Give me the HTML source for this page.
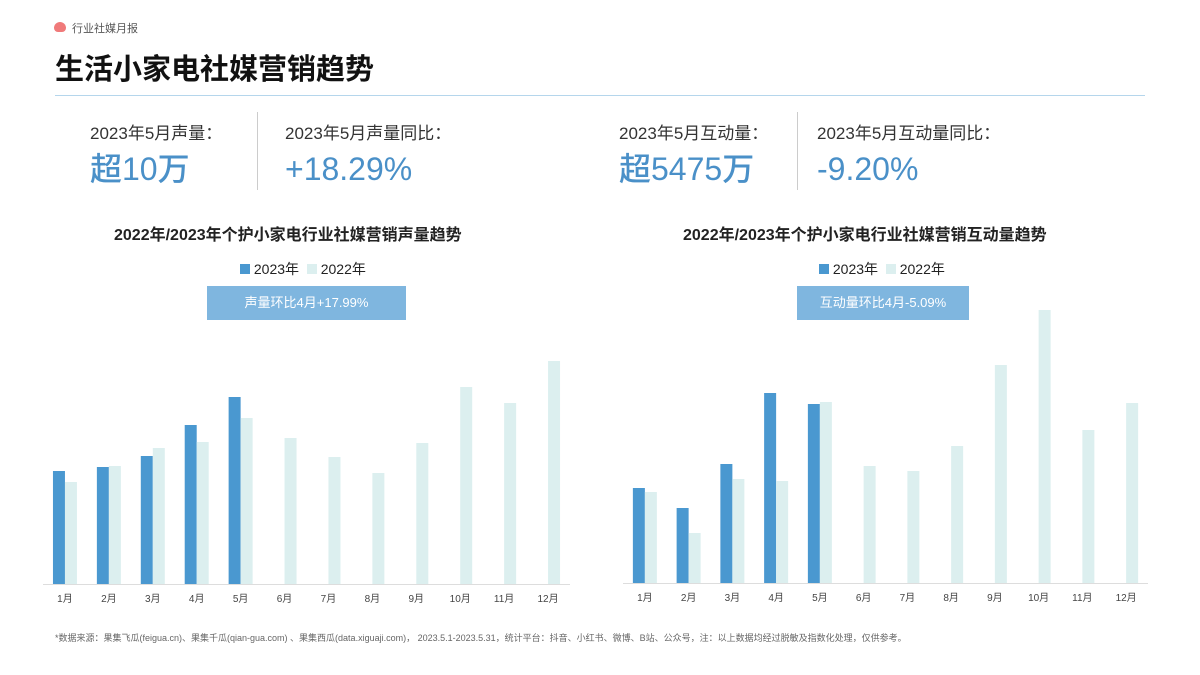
<!DOCTYPE html>
<html><head><meta charset="utf-8"><style>
body{margin:0;width:1200px;height:675px;background:#fff;font-family:"Liberation Sans","Noto Sans CJK SC",sans-serif;position:relative;overflow:hidden;color:#222}
.a{position:absolute;white-space:nowrap}
.lbl{font-size:17px;color:#333}
.val{font-size:32px;color:#4a90c8;font-weight:500;line-height:44px;height:44px}
.ct{font-size:16px;font-weight:bold;color:#222}
.tag{background:#7fb6df;color:#fff;font-size:13px;text-align:center;line-height:34px;height:34px}
</style></head><body>
<div class="a" style="left:54px;top:22px;width:12px;height:10px;border-radius:6px 6px 4px 4px;background:#f07a7a"></div>
<div class="a" style="left:72px;top:20px;font-size:11px;color:#555">行业社媒月报</div>
<div class="a" style="left:55px;top:46px;font-size:29px;font-weight:bold;color:#111">生活小家电社媒营销趋势</div>
<div class="a" style="left:55px;top:95px;width:1090px;height:1px;background:#b5d6ec"></div>

<div class="a lbl" style="left:90px;top:119px">2023年5月声量：</div>
<div class="a val" style="left:90px;top:147px">超10万</div>
<div class="a" style="left:257px;top:112px;width:1px;height:78px;background:#ccc"></div>
<div class="a lbl" style="left:285px;top:119px">2023年5月声量同比：</div>
<div class="a val" style="left:285px;top:147px">+18.29%</div>
<div class="a lbl" style="left:619px;top:119px">2023年5月互动量：</div>
<div class="a val" style="left:619px;top:147px">超5475万</div>
<div class="a" style="left:797px;top:112px;width:1px;height:78px;background:#ccc"></div>
<div class="a lbl" style="left:817px;top:119px">2023年5月互动量同比：</div>
<div class="a val" style="left:817px;top:147px">-9.20%</div>

<div class="a ct" style="left:114px;top:221px">2022年/2023年个护小家电行业社媒营销声量趋势</div>
<div class="a ct" style="left:683px;top:221px">2022年/2023年个护小家电行业社媒营销互动量趋势</div>
<div class="a" style="left:240px;top:259px;font-size:14px">
<span style="display:inline-block;width:10px;height:10px;background:#4a98d0"></span> 2023年 &nbsp;<span style="display:inline-block;width:10px;height:10px;background:#dcefef"></span> 2022年</div>
<div class="a" style="left:819px;top:259px;font-size:14px">
<span style="display:inline-block;width:10px;height:10px;background:#4a98d0"></span> 2023年 &nbsp;<span style="display:inline-block;width:10px;height:10px;background:#dcefef"></span> 2022年</div>
<div class="a tag" style="left:207px;top:286px;width:199px">声量环比4月+17.99%</div>
<div class="a tag" style="left:797px;top:286px;width:172px">互动量环比4月-5.09%</div>

<svg class="a" style="left:0;top:0" width="1200" height="675" id="svg"></svg>
<div class="a" style="left:55px;top:631px;font-size:9px;color:#666">*数据来源：果集飞瓜(feigua.cn)、果集千瓜(qian-gua.com) 、果集西瓜(data.xiguaji.com)， 2023.5.1-2023.5.31，统计平台：抖音、小红书、微博、B站、公众号，注：以上数据均经过脱敏及指数化处理，仅供参考。</div>
<script>
const months=["1月","2月","3月","4月","5月","6月","7月","8月","9月","10月","11月","12月"];
const volume2023=[113,117,128,159,187];
const volume2022=[102,118,136,142,166,146,127,111,141,197,181,223];
const inter2023=[95,75,119,190,179];
const inter2022=[91,50,104,102,181,117,112,137,218,273,153,180];
const svg=document.getElementById('svg');
const NS='http://www.w3.org/2000/svg';
function mk(t,a){const e=document.createElementNS(NS,t);for(const k in a)e.setAttribute(k,a[k]);svg.appendChild(e);return e;}
function chart(x0,x1,base,max,plotH,s23,s22,pre){
  const bw=(x1-x0)/12;
  const y=v=>base-v/max*plotH;
  const ax=mk('line',{x1:x0,x2:x1,y1:base+0.5,y2:base+0.5,stroke:'#ddd'});
  
  
  months.forEach((m,i)=>{
    const c=x0+bw*(i+0.5);
    if(i<s23.length){const r=mk('rect',{x:c-12,y:y(s23[i]),width:12,height:base-y(s23[i]),fill:'#4a98d0'});
      
      }
    const r2=mk('rect',{x:c,y:y(s22[i]),width:12,height:base-y(s22[i]),fill:'#dcefef'});
    
    
    const t=mk('text',{x:c,y:base+18,'text-anchor':'middle','font-size':10,fill:'#444'});t.textContent=m;
    
    
  });
}
chart(43,570,584,250,250,volume2023,volume2022,'volume');
chart(623,1148,583,300,300,inter2023,inter2022,'interaction');
</script>
</body></html>
